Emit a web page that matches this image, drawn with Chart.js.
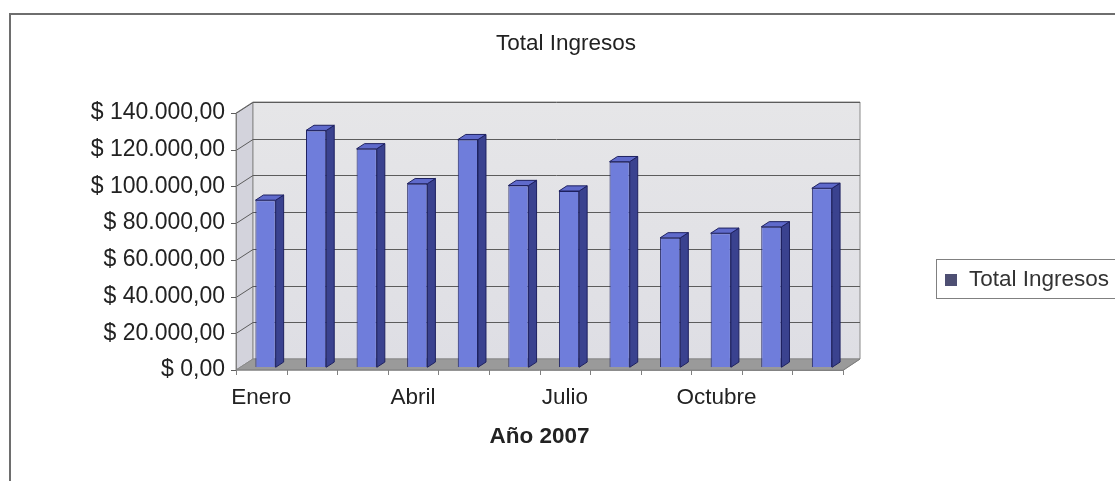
<!DOCTYPE html>
<html>
<head>
<meta charset="utf-8">
<script src="https://cdn.jsdelivr.net/npm/chart.js@4/dist/chart.umd.min.js"></script>
<style>
  html, body { margin: 0; padding: 0; background: #fff; }
</style>
</head>
<body>
<canvas id="chart" width="1115" height="481"></canvas>
<script>
const months = ['Enero', 'Febrero', 'Marzo', 'Abril', 'Mayo', 'Junio', 'Julio', 'Agosto', 'Septiembre', 'Octubre', 'Noviembre', 'Diciembre']
const ingresos = [91000, 129000, 119000, 100000, 124000, 99000, 96000, 112000, 70500, 73000, 76500, 97500]
const yTicks = [0, 20000, 40000, 60000, 80000, 100000, 120000, 140000]
const seriesName = 'Total Ingresos'
const xTitle = 'Año 2007'

// oblique projection of the box: how far the back wall sits from the front plane
const depth = { x: 17, y: -11 }
const barPos = 0.25   // bars stand a quarter of the way into the box
const barDepth = 0.47

const FONT = 'Liberation Sans, Arial, sans-serif'
Chart.defaults.font.family = FONT

const peso = v =>
  '$ ' + v.toFixed(2).replace('.', ',').replace(/\B(?=(\d{3})+(?!\d))/g, '.')

const poly = (ctx, pts, fill, stroke) => {
  ctx.beginPath()
  pts.forEach(([x, y], i) => (i ? ctx.lineTo(x, y) : ctx.moveTo(x, y)))
  ctx.closePath()
  if (fill) { ctx.fillStyle = fill; ctx.fill() }
  if (stroke) { ctx.strokeStyle = stroke; ctx.lineWidth = 1; ctx.stroke() }
}

const box3d = {
  id: 'box3d',
  beforeDraw(chart) {
    const ctx = chart.ctx
    ctx.save()
    ctx.fillStyle = '#fff'
    ctx.fillRect(0, 0, chart.width, chart.height)
    // frame of the chart object
    ctx.strokeStyle = '#6e6e6e'
    ctx.lineWidth = 2
    ctx.beginPath()
    ctx.moveTo(10, chart.height)
    ctx.lineTo(10, 14)
    ctx.lineTo(chart.width, 14)
    ctx.stroke()
    ctx.restore()
  },
  beforeDatasetsDraw(chart) {
    const { ctx, chartArea: a, scales } = chart
    const dx = depth.x, dy = depth.y
    ctx.save()
    // side wall
    poly(ctx, [[a.left, a.top], [a.left + dx, a.top + dy], [a.left + dx, a.bottom + dy], [a.left, a.bottom]], '#d3d3dc', '#8a8a8a')
    // back wall
    const g = ctx.createLinearGradient(0, a.top + dy, 0, a.bottom + dy)
    g.addColorStop(0, '#e6e6e8')
    g.addColorStop(1, '#dedee4')
    poly(ctx, [[a.left + dx, a.top + dy], [a.right + dx, a.top + dy], [a.right + dx, a.bottom + dy], [a.left + dx, a.bottom + dy]], g, '#8a8a8a')
    // floor
    poly(ctx, [[a.left, a.bottom], [a.right, a.bottom], [a.right + dx, a.bottom + dy], [a.left + dx, a.bottom + dy]], '#9a9a9a', '#8a8a8a')

    // gridlines run along the side wall then across the back wall
    const y = scales.y
    ctx.strokeStyle = '#5c5c5c'
    ctx.lineWidth = 1
    y.ticks.forEach(t => {
      const py = Math.round(y.getPixelForValue(t.value)) + 0.5
      ctx.beginPath()
      ctx.moveTo(a.left - 5, py)
      ctx.lineTo(a.left, py)
      if (t.value > 0) {
        ctx.lineTo(a.left + dx, py + dy)
        ctx.lineTo(a.right + dx, py + dy)
      }
      ctx.stroke()
    })
    // front axes
    ctx.strokeStyle = '#808080'
    ctx.beginPath()
    ctx.moveTo(a.left + 0.5, a.top)
    ctx.lineTo(a.left + 0.5, a.bottom)
    ctx.lineTo(a.right, a.bottom + 0.5)
    ctx.lineTo(a.right + dx, a.bottom + dy)
    ctx.stroke()
    // category tick marks
    const step = (a.right - a.left) / months.length
    for (let i = 0; i <= months.length; i++) {
      const px = Math.round(a.left + i * step) + 0.5
      ctx.beginPath()
      ctx.moveTo(px, a.bottom)
      ctx.lineTo(px, a.bottom + 5)
      ctx.stroke()
    }
    ctx.restore()
  },
  beforeDatasetDraw(chart) {
    chart.ctx.save()
    chart.ctx.translate(depth.x * barPos, depth.y * barPos)
  },
  afterDatasetDraw(chart, args) {
    const ctx = chart.ctx
    const bx = depth.x * barDepth, by = depth.y * barDepth
    args.meta.data.forEach(bar => {
      const { x, y, base, width } = bar.getProps(['x', 'y', 'base', 'width'], true)
      const l = x - width / 2, r = x + width / 2
      poly(ctx, [[r, y], [r + bx, y + by], [r + bx, base + by], [r, base]], '#3a428f', '#1e2160')
      poly(ctx, [[l, y], [r, y], [r + bx, y + by], [l + bx, y + by]], '#5f6acb', '#1e2160')
    })
    ctx.restore()
  },
  afterDraw(chart) {
    const ctx = chart.ctx
    const ds = chart.data.datasets[0]
    ctx.save()
    ctx.font = '22.5px ' + FONT
    ctx.textBaseline = 'middle'
    // chart title, centred over the whole object
    ctx.fillStyle = '#222'
    ctx.textAlign = 'center'
    ctx.fillText(seriesName, 566, 44)
    // legend box on the right
    ctx.textAlign = 'left'
    ctx.strokeStyle = '#808080'
    ctx.lineWidth = 1
    ctx.strokeRect(936.5, 259.5, 200, 39)
    ctx.fillStyle = '#4e4f73'
    ctx.fillRect(945, 274, 12, 12)
    ctx.fillStyle = '#333'
    ctx.fillText(ds.label, 969, 280)
    ctx.restore()
  }
}

new Chart(document.getElementById('chart'), {
  type: 'bar',
  data: {
    labels: months,
    datasets: [
      {
        label: seriesName,
        data: ingresos,
        backgroundColor: '#6f7ddb',
        borderColor: '#1e2160',
        borderWidth: 1,
        barPercentage: 0.4,
        categoryPercentage: 1
      }
    ]
  },
  options: {
    responsive: false,
    animation: false,
    layout: { padding: { left: 0, right: 272, top: 113, bottom: 0 } },
    plugins: {
      legend: { display: false },
      tooltip: { enabled: false },
      title: { display: false }
    },
    scales: {
      x: {
        offset: true,
        grid: { display: false },
        border: { display: false },
        ticks: {
          autoSkip: false,
          maxRotation: 0,
          padding: 6,
          color: '#222',
          font: { size: 22.5 },
          callback: (v, i) => (i % 3 === 0 ? months[i] : '')
        },
        title: {
          display: true,
          text: xTitle,
          color: '#222',
          font: { size: 22.5, weight: 'bold' },
          padding: { top: 0, bottom: 31 }
        },
        afterFit: s => { s.height = 111 }
      },
      y: {
        min: 0,
        max: 140000,
        grid: { display: false },
        border: { display: false },
        afterBuildTicks: s => { s.ticks = yTicks.map(v => ({ value: v })) },
        ticks: {
          padding: 3,
          color: '#222',
          font: { size: 23 },
          callback: v => peso(v)
        },
        afterFit: s => { s.width = 236 }
      }
    }
  },
  plugins: [box3d]
})
</script>
</body>
</html>
